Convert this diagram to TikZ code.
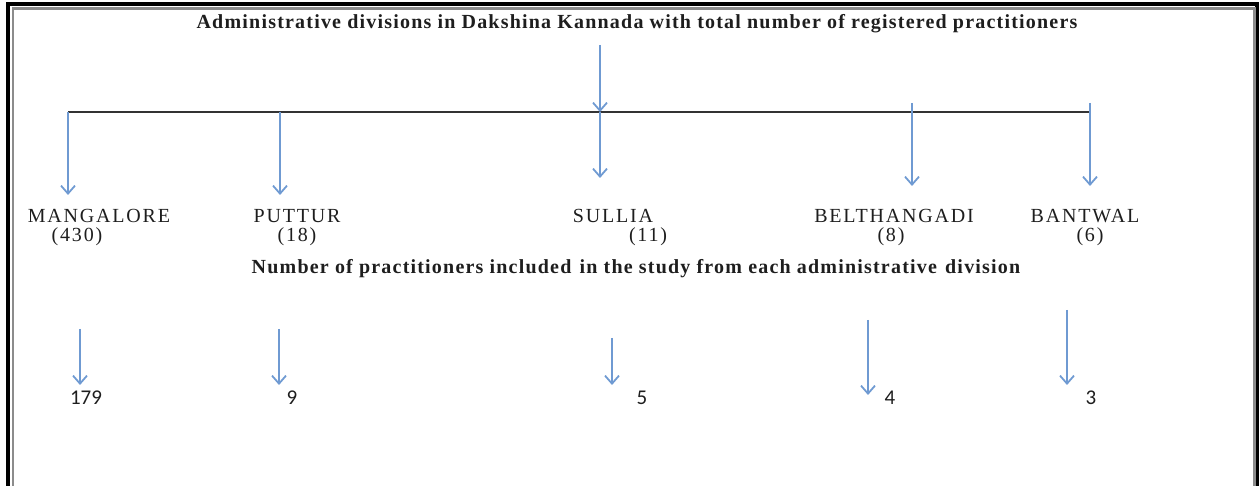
\documentclass[tikz,border=0pt]{standalone}
\usepackage{fontspec}
\setmainfont{Liberation Serif}
\newfontfamily\titlefont[LetterSpace=6]{Liberation Serif}
\newfontfamily\namefont[LetterSpace=9]{Liberation Serif}
\newfontfamily\numfont{Carlito}
\usetikzlibrary{arrows.meta}
\definecolor{arrowblue}{RGB}{111,154,210}
\definecolor{textgray}{RGB}{30,30,30}
\begin{document}
\begin{tikzpicture}[x=1pt,y=-1pt,
  arr/.style={draw=arrowblue, line width=1.8pt, -{Straight Barb[length=8pt,width=14pt,line width=1.8pt]}},
  ttl/.style={font=\titlefont\bfseries\fontsize{20}{22}\selectfont, inner sep=0, anchor=base, text=textgray},
  lbl/.style={font=\namefont\fontsize{20}{22}\selectfont, inner sep=0, anchor=base, text=textgray},
  num/.style={font=\numfont\fontsize{21}{23}\selectfont, inner sep=0, anchor=base, text=textgray},
  hline/.style={draw=black!80, line width=1.8pt}]
\useasboundingbox (0,0) rectangle (1259,486);
% frame
\draw[black, line width=4pt] (8,486) -- (8,4) -- (1257,4) -- (1257,486);
\draw[black!45, line width=2.5pt] (13,486) -- (13,8.5) -- (1254.5,8.5) -- (1254.5,486);
% texts
\node[ttl] (title) at (637,29) {Administrative divisions in Dakshina Kannada with total number of registered practitioners};
\node[lbl] (mng) at (99,223) {MANGALORE};
\node[lbl] (put) at (297,223) {PUTTUR};
\node[lbl] (sul) at (613,223) {SULLIA};
\node[lbl] (bel) at (894,223) {BELTHANGADI};
\node[lbl] (ban) at (1085,223) {BANTWAL};
\node[lbl] (cmng) at (77,242) {(430)};
\node[lbl] (cput) at (297,242) {(18)};
\node[lbl] (csul) at (648,242) {(11)};
\node[lbl] (cbel) at (891,242) {(8)};
\node[lbl] (cban) at (1090,242) {(6)};
\node[ttl] (sub) at (636,274) {Number of practitioners included\hspace{2pt} in the study from each administrative\hspace{2pt} division};
\node[num] (nmng) at (86,405) {179};
\node[num] (nput) at (292,405) {9};
\node[num] (nsul) at (642,405) {5};
\node[num] (nbel) at (890,405) {4};
\node[num] (nban) at (1091,405) {3};
% coordinates
\coordinate (t0) at (600,45);
\coordinate (hub) at (600,112);
\coordinate (lineL) at (68,112);
\coordinate (lineR) at (1090,112);
\coordinate (pL) at (280,112);
\coordinate (aM) at (68,195);
\coordinate (aP) at (280,195);
\coordinate (aS) at (600,178);
\coordinate (bB0) at (912,103);
\coordinate (aB) at (912,186);
\coordinate (nB0) at (1090,103);
\coordinate (aN) at (1090,186);
\coordinate (m0) at (80,329);
\coordinate (m1) at (80,385);
\coordinate (p0) at (279,329);
\coordinate (p1) at (279,385);
\coordinate (s0) at (612,338);
\coordinate (s1) at (612,385);
\coordinate (b0) at (868,320);
\coordinate (b1) at (868,395);
\coordinate (w0) at (1067,310);
\coordinate (w1) at (1067,385);
% connectors
\draw[hline] (lineL) -- (lineR);
\draw[arr] (t0) -- (hub);
\draw[arr] (lineL) -- (aM);
\draw[arr] (pL) -- (aP);
\draw[arr] (hub) -- (aS);
\draw[arr] (bB0) -- (aB);
\draw[arr] (nB0) -- (aN);
\draw[arr] (m0) -- (m1);
\draw[arr] (p0) -- (p1);
\draw[arr] (s0) -- (s1);
\draw[arr] (b0) -- (b1);
\draw[arr] (w0) -- (w1);
\end{tikzpicture}
\end{document}
